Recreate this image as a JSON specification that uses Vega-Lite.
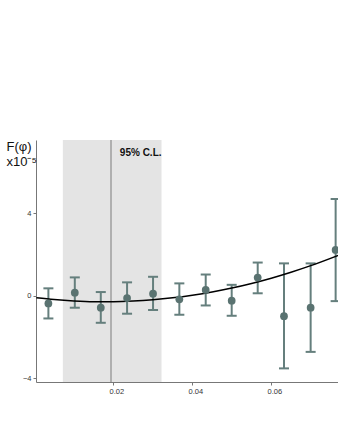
{
  "$schema": "https://vega.github.io/schema/vega-lite/v6.json",
  "width": 302,
  "height": 242,
  "autosize": {"type": "none"},
  "padding": {"left": 36, "top": 140, "right": 0, "bottom": 55},
  "background": "white",
  "config": {
    "font": "Liberation Sans",
    "view": {"stroke": null},
    "axis": {"domainColor": "#777777", "tickColor": "#777777", "labelColor": "#333333", "labelFontSize": 7.5, "grid": false, "tickSize": 3, "domainWidth": 1},
    "axisX": {"labelColor": "#333333"}
  },
  "datasets": {
    "points": [
      {"phi": 0.00354, "F": -0.37, "lo": -1.10, "hi": 0.36},
      {"phi": 0.01023, "F": 0.15, "lo": -0.58, "hi": 0.89},
      {"phi": 0.01681, "F": -0.58, "lo": -1.31, "hi": 0.18},
      {"phi": 0.02347, "F": -0.11, "lo": -0.87, "hi": 0.65},
      {"phi": 0.03005, "F": 0.10, "lo": -0.69, "hi": 0.92},
      {"phi": 0.03671, "F": -0.17, "lo": -0.92, "hi": 0.60},
      {"phi": 0.04339, "F": 0.28, "lo": -0.47, "hi": 1.03},
      {"phi": 0.04997, "F": -0.24, "lo": -0.97, "hi": 0.53},
      {"phi": 0.05656, "F": 0.88, "lo": 0.12, "hi": 1.61},
      {"phi": 0.06322, "F": -0.99, "lo": -3.52, "hi": 1.57},
      {"phi": 0.06997, "F": -0.58, "lo": -2.72, "hi": 1.57},
      {"phi": 0.0763, "F": 2.22, "lo": -0.26, "hi": 4.69}
    ],
    "curve": [
      {"phi": 0.0005, "F": -0.095},
      {"phi": 0.005, "F": -0.183},
      {"phi": 0.01, "F": -0.25},
      {"phi": 0.015, "F": -0.285},
      {"phi": 0.02, "F": -0.287},
      {"phi": 0.025, "F": -0.258},
      {"phi": 0.03, "F": -0.196},
      {"phi": 0.035, "F": -0.102},
      {"phi": 0.04, "F": 0.025},
      {"phi": 0.045, "F": 0.183},
      {"phi": 0.05, "F": 0.374},
      {"phi": 0.055, "F": 0.597},
      {"phi": 0.06, "F": 0.852},
      {"phi": 0.065, "F": 1.14},
      {"phi": 0.07, "F": 1.459},
      {"phi": 0.077, "F": 1.961}
    ],
    "band": [{"lo": 0.0072, "hi": 0.0322, "best": 0.0194, "label": "95% C.L."}]
  },
  "layer": [
    {
      "data": {"name": "band"},
      "mark": {"type": "rect", "color": "#e4e4e4", "opacity": 1},
      "encoding": {
        "x": {"field": "lo", "type": "quantitative", "scale": {"domain": [0.0004, 0.0769], "nice": false, "zero": false},
          "axis": {"values": [0.02, 0.04, 0.06], "format": ".2f", "title": null, "labelPadding": 2, "labelOffset": 3}},
        "x2": {"field": "hi"}
      }
    },
    {
      "data": {"name": "band"},
      "mark": {"type": "rule", "color": "#7a7a7a", "strokeWidth": 1, "opacity": 1},
      "encoding": {"x": {"field": "best", "type": "quantitative"}}
    },
    {
      "data": {"name": "band"},
      "mark": {"type": "text", "fontWeight": "bold", "fontSize": 10, "align": "right", "baseline": "middle", "dx": 0, "color": "#111111"},
      "encoding": {
        "x": {"field": "hi", "type": "quantitative"},
        "y": {"datum": 6.93, "type": "quantitative"},
        "text": {"field": "label"}
      }
    },
    {
      "mark": {"type": "rule", "color": "#777777", "strokeDash": [5, 3], "strokeWidth": 1, "opacity": 1},
      "encoding": {"y": {"datum": 0, "type": "quantitative"}}
    },
    {
      "data": {"name": "points"},
      "mark": {"type": "rule", "color": "#657f7d", "strokeWidth": 2, "opacity": 1},
      "encoding": {
        "x": {"field": "phi", "type": "quantitative"},
        "y": {"field": "lo", "type": "quantitative"},
        "y2": {"field": "hi"}
      }
    },
    {
      "data": {"name": "points"},
      "mark": {"type": "tick", "color": "#657f7d", "orient": "horizontal", "size": 10, "thickness": 2, "opacity": 1},
      "encoding": {
        "x": {"field": "phi", "type": "quantitative"},
        "y": {"field": "lo", "type": "quantitative"}
      }
    },
    {
      "data": {"name": "points"},
      "mark": {"type": "tick", "color": "#657f7d", "orient": "horizontal", "size": 10, "thickness": 2, "opacity": 1},
      "encoding": {
        "x": {"field": "phi", "type": "quantitative"},
        "y": {"field": "hi", "type": "quantitative"}
      }
    },
    {
      "data": {"name": "curve"},
      "mark": {"type": "line", "color": "#000000", "strokeWidth": 1.5, "interpolate": "monotone", "clip": true},
      "encoding": {
        "x": {"field": "phi", "type": "quantitative"},
        "y": {"field": "F", "type": "quantitative"}
      }
    },
    {
      "data": {"name": "points"},
      "mark": {"type": "circle", "color": "#5a7371", "opacity": 1, "size": 60},
      "encoding": {
        "x": {"field": "phi", "type": "quantitative"},
        "y": {"field": "F", "type": "quantitative", "scale": {"domain": [-4.18, 7.55], "nice": false, "zero": false},
          "axis": {"values": [-4, 0, 4], "title": ["F(φ)", "x10⁻⁵"], "titleAngle": 0, "titleFontSize": 13, "titleFontWeight": "normal", "titleColor": "#111111", "titleAlign": "left", "titleBaseline": "top", "titleX": -30, "titleY": 0, "titleLineHeight": 15, "labelPadding": 2}}
      }
    },
    {
      "mark": {"type": "rule", "color": "#777777", "strokeWidth": 1, "opacity": 1},
      "encoding": {"y": {"datum": 7.55, "type": "quantitative"}}
    }
  ]
}
